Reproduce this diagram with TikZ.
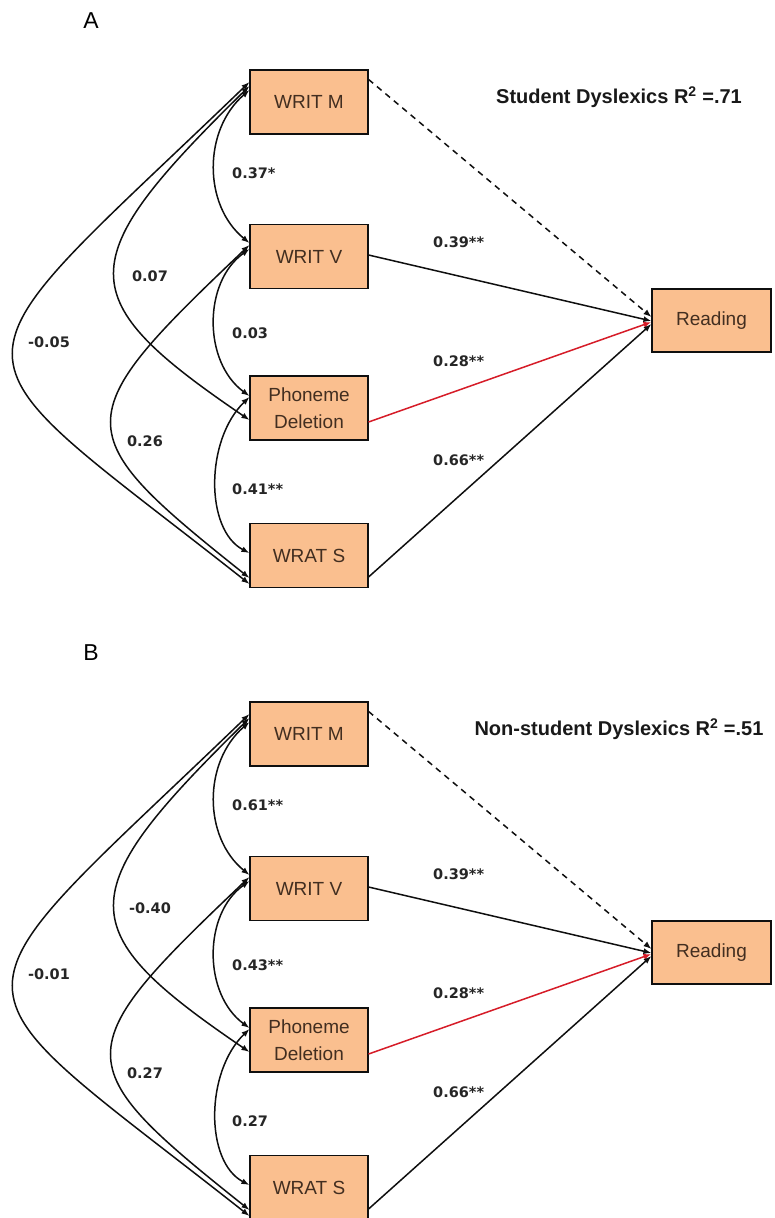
\documentclass[tikz,border=0pt]{standalone}
\usepackage{fontspec}
\setmainfont{Liberation Sans}
\newfontfamily\numfont{DejaVu Sans}
\usetikzlibrary{arrows.meta}

\definecolor{boxfill}{RGB}{250,191,143}
\definecolor{boxtext}{RGB}{66,46,32}
\definecolor{edgeblack}{RGB}{15,15,15}
\definecolor{pathred}{RGB}{214,28,40}

\tikzset{
  var/.style={draw=edgeblack, line width=1.1pt, fill=boxfill, minimum width=118pt,
    minimum height=64pt, inner sep=0pt, align=center, text=boxtext,
    font=\fontsize{19}{27}\selectfont},
  coef/.style={font=\numfont\bfseries\fontsize{14.5}{16}\selectfont, text=black!85, inner sep=0pt},
  cov/.style={draw=edgeblack, line width=1.5pt, {Latex[length=8pt,width=6pt]}-{Latex[length=8pt,width=6pt]}},
  reg/.style={draw=edgeblack, line width=1.5pt, -{Latex[length=8pt,width=6pt]}},
  panelletter/.style={font=\fontsize{23}{25}\selectfont, inner sep=0pt},
  fittitle/.style={font=\bfseries\fontsize{20}{22}\selectfont, text=black!90, inner sep=0pt},
}

% One path model: #1 panel letter (also node prefix), #2 vertical offset,
% #3 fit title, #4-#9 covariances M-V, M-P, M-S, V-P, V-S, P-S
\newcommand\drawpanel[9]{%
\begin{scope}[shift={(0,#2)}]
  \node[panelletter] (#1letter) at (91,21) {#1};
  \node[fittitle] (#1title) at (619,97) {#3};
  \node[var] (#1m) at (309,102) {WRIT M};
  \node[var] (#1v) at (309,256.5) {WRIT V};
  \node[var] (#1p) at (309,408) {Phoneme\\Deletion};
  \node[var] (#1s) at (309,555.5) {WRAT S};
  \node[var, minimum width=119pt, minimum height=63pt] (#1r) at (711.5,320.5) {Reading};
  % covariances among the predictors
  \draw[cov] ([yshift=12pt]#1m.west) .. controls (203,130) and (203,205) .. ([yshift=13.5pt]#1v.west);
  \draw[cov] ([yshift=16pt]#1m.west) .. controls (70,262) and (70,298) .. ([yshift=-12pt]#1p.west);
  \draw[cov] ([yshift=20pt]#1m.west) .. controls (-65,385) and (-65,336) .. ([yshift=-28.5pt]#1s.west);
  \draw[cov] ([yshift=7.5pt]#1v.west) .. controls (203,282) and (203,362) .. ([yshift=12pt]#1p.west);
  \draw[cov] ([yshift=11.5pt]#1v.west) .. controls (66,419) and (66,432) .. ([yshift=-22.5pt]#1s.west);
  \draw[cov] ([yshift=11pt]#1p.west) .. controls (205,440) and (205,530) .. ([yshift=2.5pt]#1s.west);
  % paths to reading
  \draw[reg, dash pattern=on 6pt off 5pt] ([yshift=-10pt]#1m.north east) -- ([yshift=3.5pt]#1r.west);
  \draw[reg] ([yshift=1.5pt]#1v.east) -- ([yshift=-0.5pt]#1r.west);
  \draw[reg, draw=pathred, color=pathred] ([yshift=-14pt]#1p.east) -- ([yshift=-1.5pt]#1r.west);
  \draw[reg] ([yshift=-21.5pt]#1s.east) -- ([yshift=-3.5pt]#1r.west);
  % coefficients
  \node[coef, anchor=west] (#1lmv) at (232,173) {#4};
  \node[coef] (#1lmp) at (150,276) {#5};
  \node[coef] (#1lms) at (49,342) {#6};
  \node[coef, anchor=west] (#1lvp) at (232,333) {#7};
  \node[coef] (#1lvs) at (145,441) {#8};
  \node[coef, anchor=west] (#1lps) at (232,489) {#9};
  \node[coef, anchor=west] (#1lv) at (433,242) {0.39**};
  \node[coef, anchor=west] (#1lp) at (433,361) {0.28**};
  \node[coef, anchor=west] (#1ls) at (433,460) {0.66**};
\end{scope}}

\begin{document}
\begin{tikzpicture}[x=1pt, y=-1pt]
  \useasboundingbox (0,0) rectangle (774,1218);
  \fill[white] (0,0) rectangle (774,1218);
  \drawpanel{A}{0}{Student Dyslexics R\textsuperscript{2} =.71}{0.37*}{0.07}{-0.05}{0.03}{0.26}{0.41**}
  \drawpanel{B}{632}{Non-student Dyslexics R\textsuperscript{2} =.51}{0.61**}{-0.40}{-0.01}{0.43**}{0.27}{0.27}
\end{tikzpicture}
\end{document}
